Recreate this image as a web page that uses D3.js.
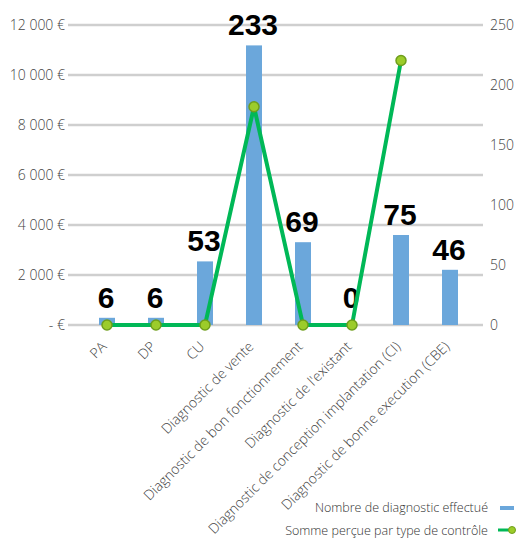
<!DOCTYPE html>
<html>
<head>
<meta charset="utf-8">
<script src="https://cdn.jsdelivr.net/npm/d3@7"></script>
<style>
  body { margin: 0; background: #fff; }
  .tick text { font-family: "Open Sans", sans-serif; font-weight: 300; fill: #444; }
</style>
</head>
<body>
<div id="chart"></div>
<script>
// Chart data
var categories = ["PA", "DP", "CU", "Diagnostic de vente", "Diagnostic de bon fonctionnement",
    "Diagnostic de l'existant", "Diagnostic de conception implantation (CI)", "Diagnostic de bonne execution (CBE)"];
var nbDiagnostics = [6, 6, 53, 233, 69, 0, 75, 46];
var sommePercue = [0, 0, 0, 8730, 0, 0, 10580, null];
var leftTicks = [0, 2000, 4000, 6000, 8000, 10000, 12000];
var rightTicks = [0, 50, 100, 150, 200, 250];
var seriesNames = ["Nombre de diagnostic effectué", "Somme perçue par type de contrôle"];

var svgWidth = 516, svgHeight = 539;

var svg = d3.select("#chart").append("svg")
    .attr("width", svgWidth)
    .attr("height", svgHeight);

// Scales
var x = d3.scaleBand().domain(categories).range([82.5, 474.5]);
var yLeft = d3.scaleLinear().domain([0, 12000]).range([325, 25]);
var yRight = d3.scaleLinear().domain([0, 250]).range([325, 25]);

var fmtEuro = function(d) {
    if (d === 0) return "- €";
    return d3.format(",")(d).replace(/,/g, " ") + " €";
};

// gridlines
svg.append("g").selectAll("line")
    .data(leftTicks)
    .enter().append("line")
    .attr("x1", 68).attr("x2", 483)
    .attr("y1", d => yLeft(d)).attr("y2", d => yLeft(d))
    .attr("stroke", "#cfcfcf")
    .attr("stroke-width", 2.5);

// left axis
var leftAxis = d3.axisLeft(yLeft).tickValues(leftTicks).tickFormat(fmtEuro).tickSize(0).tickPadding(3);
svg.append("g")
    .attr("transform", "translate(68,0)")
    .call(leftAxis)
    .call(g => g.select(".domain").remove())
    .selectAll("text").style("font-size", "14px");

// right axis
var rightAxis = d3.axisRight(yRight).tickValues(rightTicks).tickSize(0).tickPadding(7);
svg.append("g")
    .attr("transform", "translate(483,0)")
    .call(rightAxis)
    .call(g => g.select(".domain").remove())
    .selectAll("text").style("font-size", "14px");

// bars
var barW = 16;
svg.append("g").selectAll("rect")
    .data(nbDiagnostics)
    .enter().append("rect")
    .attr("x", (d, i) => x(categories[i]) + x.bandwidth() / 2 - barW / 2)
    .attr("width", barW)
    .attr("y", d => yRight(d))
    .attr("height", d => yRight(0) - yRight(d))
    .attr("fill", "#6ba7db");

// bar labels
svg.append("g").selectAll("text")
    .data(nbDiagnostics)
    .enter().append("text")
    .attr("x", (d, i) => x(categories[i]) + x.bandwidth() / 2 - 1)
    .attr("y", d => Math.min(yRight(d) - 10, yRight(0) - 17))
    .attr("text-anchor", "middle")
    .style("font-family", "'Liberation Sans Narrow', 'Liberation Sans', sans-serif")
    .style("font-weight", "bold")
    .style("font-size", "30px")
    .style("fill", "#000")
    .text(d => d);

// line
var lineData = sommePercue.map((v, i) => ({ cat: categories[i], v: v })).filter(d => d.v !== null);
var line = d3.line()
    .x(d => x(d.cat) + x.bandwidth() / 2)
    .y(d => yLeft(d.v));

svg.append("path")
    .datum(lineData)
    .attr("d", line)
    .attr("fill", "none")
    .attr("stroke", "#00b857")
    .attr("stroke-width", 4)
    .attr("stroke-linejoin", "miter");

svg.append("g").selectAll("circle")
    .data(lineData)
    .enter().append("circle")
    .attr("cx", d => x(d.cat) + x.bandwidth() / 2)
    .attr("cy", d => yLeft(d.v))
    .attr("r", 5)
    .attr("fill", "#9ccc2a")
    .attr("stroke", "#6f9e1c")
    .attr("stroke-width", 1.5);

// category labels
var bottomAxis = d3.axisBottom(x).tickSize(0).tickPadding(0);
svg.append("g")
    .attr("transform", "translate(0,325)")
    .call(bottomAxis)
    .call(g => g.select(".domain").remove())
    .selectAll("text")
    .style("font-size", "14px")
    .attr("text-anchor", "end")
    .attr("transform", "translate(-3,19) rotate(-45)")
    .attr("dy", "0.35em")
    .attr("y", 0);

// legend
var legend = svg.append("g").attr("class", "legend");
legend.selectAll("text")
    .data(seriesNames)
    .enter().append("text")
    .attr("x", 488)
    .attr("y", (d, i) => 512 + i * 23)
    .attr("text-anchor", "end")
    .style("font-family", "'Open Sans', sans-serif")
    .style("font-weight", 300)
    .style("font-size", "12.5px")
    .style("fill", "#333")
    .text(d => d);

legend.append("rect")
    .attr("x", 500).attr("y", 506).attr("width", 14).attr("height", 4)
    .attr("fill", "#6ba7db");
legend.append("line")
    .attr("x1", 498).attr("x2", 512).attr("y1", 530).attr("y2", 530)
    .attr("stroke", "#00b857").attr("stroke-width", 3);
legend.append("circle")
    .attr("cx", 512).attr("cy", 530).attr("r", 3.5)
    .attr("fill", "#9ccc2a").attr("stroke", "#6f9e1c").attr("stroke-width", 1);
</script>
</body>
</html>
